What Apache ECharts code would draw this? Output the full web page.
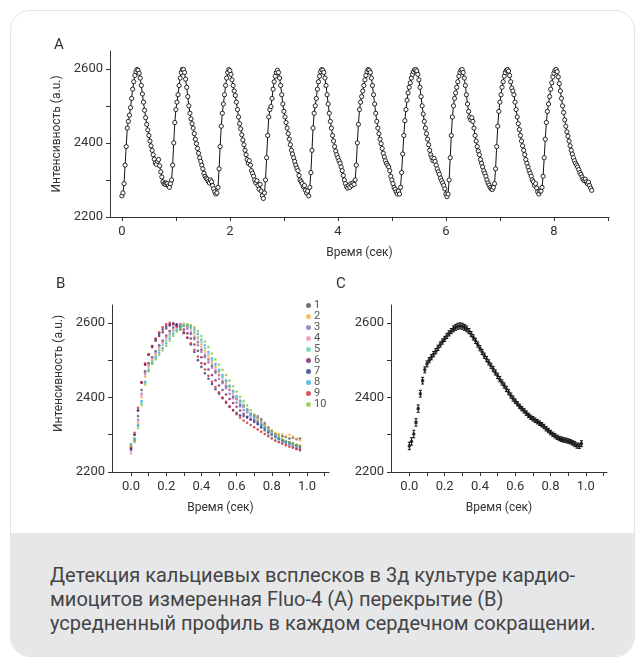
<!DOCTYPE html>
<html>
<head>
<meta charset="utf-8">
<script src="https://cdn.jsdelivr.net/npm/echarts@6/dist/echarts.min.js"></script>
<style>
  html, body { margin: 0; padding: 0; background: #fff; }
  body { width: 637px; height: 659px; position: relative; overflow: hidden; font-family: Roboto, sans-serif; }
  #card { position: absolute; left: 10px; top: 10px; width: 625px; height: 647px; box-sizing: border-box;
          border: 1.5px solid #e4e4e4; border-radius: 20px; overflow: hidden; background: #fff; }
  #caption { position: absolute; left: 0; right: 0; bottom: 0; height: 123px; background: #e6e7e9; }
  #caption p { margin: 0; padding: 30px 0 0 39px; font-size: 20px; line-height: 24px; color: #444; }
  #chart { position: absolute; left: 0; top: 0; width: 637px; height: 659px; }
</style>
</head>
<body>
<div id="card">
  <div id="caption"><p>Детекция кальциевых всплесков в 3д культуре кардио-<br>миоцитов измеренная Fluo-4 (A) перекрытие (B)<br>усредненный профиль в каждом сердечном сокращении.</p></div>
</div>
<div id="chart"></div>
<script>
  // A: raw trace, one sample every 0.02 s, one line per beat
  var stepA = 0.02;
  var traceA = [
    2257,2265,2290,2340,2390,2440,2458,2475,2495,2520,2545,2565,2582,2592,2598,2596,2588,2575,2555,2532,2510,2488,2468,2450,2435,2420,2405,2392,2380,2368,2356,2346,2342,2350,2355,2338,2322,2308,2295,2290,2288,2292,2290,2284,2280,2290,
    2300,2340,2400,2455,2490,2510,2530,2555,2575,2590,2598,2598,2590,2572,2550,2525,2500,2480,2465,2452,2440,2425,2410,2398,2385,2372,2360,2350,2340,2330,2318,2310,2305,2302,2296,2292,2300,2295,2285,2276,2268,2262,2265,
    2280,2330,2390,2445,2480,2505,2530,2555,2575,2590,2598,2595,2585,2570,2555,2540,2528,2510,2490,2470,2452,2438,2422,2408,2395,2380,2368,2355,2345,2352,2340,2325,2318,2310,2300,2292,2298,2285,2275,2288,2270,2258,2250,
    2265,2300,2360,2420,2470,2490,2498,2520,2545,2565,2580,2590,2596,2590,2575,2555,2530,2505,2485,2470,2455,2440,2425,2410,2395,2380,2370,2360,2350,2340,2332,2325,2312,2300,2295,2290,2282,2285,2272,2265,2270,2257,
    2280,2320,2380,2440,2480,2500,2520,2545,2565,2580,2592,2598,2596,2590,2575,2555,2530,2505,2480,2458,2440,2420,2405,2390,2378,2368,2360,2352,2345,2335,2325,2312,2300,2290,2282,2278,2285,2280,2290,
    2285,2292,2288,2300,2340,2400,2450,2490,2510,2525,2540,2555,2570,2582,2592,2598,2596,2590,2575,2555,2530,2505,2480,2458,2440,2425,2410,2398,2385,2372,2362,2352,2345,2340,2335,2325,2310,2300,2290,2280,2275,2268,2262,2270,
    2262,2280,2320,2370,2420,2460,2490,2515,2535,2550,2562,2575,2585,2592,2597,2598,2594,2585,2570,2550,2525,2500,2478,2458,2440,2425,2410,2395,2380,2368,2360,2352,2358,2350,2340,2330,2322,2315,2305,2298,2292,2285,2276,2262,2255,
    2262,2300,2360,2420,2470,2500,2520,2535,2550,2565,2580,2590,2596,2598,2590,2575,2555,2530,2505,2485,2470,2462,2468,2458,2440,2420,2405,2390,2378,2368,2355,2345,2335,2325,2318,2310,2300,2292,2286,2280,2276,2274,2280,
    2290,2330,2390,2445,2485,2510,2530,2550,2565,2580,2590,2596,2598,2594,2582,2565,2548,2540,2530,2510,2490,2470,2452,2436,2420,2405,2392,2380,2368,2355,2345,2335,2325,2318,2310,2300,2295,2285,2290,2278,2268,2262,2270,
    2270,2280,2310,2360,2410,2455,2485,2505,2525,2545,2562,2578,2588,2595,2598,2592,2578,2560,2540,2520,2500,2482,2462,2445,2430,2418,2405,2392,2380,2370,2360,2352,2345,2340,2335,2328,2320,2315,2308,2302,2298,2302,2295,2290,2294,2285,2278,2272
  ];

  // B: ten beats overlaid, one sample every 0.02 s
  var stepB = 0.02;
  var namesB = ['1', '2', '3', '4', '5', '6', '7', '8', '9', '10'];
  var colorsB = ['#4d4d4f', '#f6b13d', '#8e6cc0', '#ee91b8', '#6ccab9', '#7c1f6b', '#2b3990', '#3baae4', '#d4252f', '#8dc641'];
  var beatB1 = [2262,2290,2350,2420,2470,2492,2508,2524,2540,2552,2565,2578,2586,2594,2597,2594,2588,2572,2560,2548,2528,2512,2502,2485,2470,2460,2442,2430,2420,2402,2395,2380,2375,2365,2352,2348,2346,2340,2328,2318,2310,2302,2300,2296,2294,2290,2292,2288,2290];
  var beatB2 = [2270,2288,2330,2400,2455,2482,2500,2515,2532,2548,2560,2572,2582,2590,2596,2598,2592,2585,2572,2558,2542,2525,2510,2495,2482,2468,2455,2440,2428,2415,2400,2390,2378,2368,2358,2350,2340,2334,2325,2318,2312,2305,2300,2302,2296,2300,2295,2290,2285];
  var beatB3 = [2258,2285,2340,2410,2465,2490,2508,2522,2538,2552,2566,2578,2588,2594,2596,2592,2584,2570,2556,2540,2522,2508,2494,2480,2466,2450,2438,2425,2410,2398,2386,2376,2366,2360,2354,2352,2350,2342,2332,2320,2310,2300,2292,2286,2280,2275,2268,2262,2258];
  var beatB4 = [2250,2280,2335,2405,2460,2485,2502,2518,2530,2545,2558,2570,2582,2590,2595,2594,2588,2578,2565,2550,2535,2518,2502,2490,2475,2460,2448,2435,2420,2408,2396,2385,2374,2364,2354,2345,2338,2330,2320,2312,2304,2296,2290,2284,2280,2276,2272,2268,2265];
  var beatB5 = [2272,2290,2325,2385,2440,2475,2496,2512,2526,2540,2552,2565,2576,2585,2592,2595,2592,2586,2576,2562,2548,2532,2516,2500,2485,2470,2455,2442,2428,2414,2400,2388,2375,2362,2350,2340,2330,2320,2310,2300,2292,2286,2282,2280,2278,2275,2272,2270,2268];
  var beatB6 = [2265,2300,2365,2440,2490,2515,2535,2552,2565,2575,2585,2593,2598,2596,2590,2582,2572,2558,2542,2525,2508,2490,2475,2460,2446,2432,2420,2408,2396,2385,2375,2365,2356,2348,2342,2338,2333,2326,2318,2310,2302,2296,2290,2285,2282,2278,2276,2272,2270];
  var beatB7 = [2262,2300,2365,2440,2488,2515,2538,2556,2570,2582,2590,2596,2598,2594,2586,2575,2560,2542,2522,2500,2482,2465,2450,2436,2422,2410,2398,2386,2375,2366,2358,2352,2350,2346,2340,2334,2328,2320,2314,2306,2300,2294,2290,2286,2282,2280,2276,2272,2268];
  var beatB8 = [2275,2285,2325,2390,2442,2472,2492,2507,2520,2532,2545,2558,2570,2580,2588,2593,2594,2590,2582,2570,2555,2540,2522,2505,2490,2474,2460,2446,2432,2418,2404,2392,2380,2368,2356,2346,2336,2328,2318,2310,2302,2294,2288,2282,2278,2274,2270,2266,2262];
  var beatB9 = [2268,2305,2372,2440,2490,2515,2538,2558,2575,2588,2596,2600,2596,2590,2582,2572,2560,2545,2528,2510,2492,2475,2458,2442,2428,2414,2400,2388,2376,2365,2355,2346,2338,2332,2326,2320,2314,2308,2302,2296,2290,2284,2280,2276,2272,2268,2265,2262,2260];
  var beatB10 = [2270,2282,2318,2380,2435,2470,2490,2502,2514,2526,2538,2552,2565,2576,2585,2592,2596,2594,2588,2578,2565,2550,2535,2518,2502,2488,2474,2460,2445,2430,2416,2402,2390,2378,2366,2355,2345,2335,2325,2316,2308,2300,2294,2288,2284,2280,2276,2272,2270];
  var beatsB = [beatB1, beatB2, beatB3, beatB4, beatB5, beatB6, beatB7, beatB8, beatB9, beatB10];

  // C: averaged profile with error, one point every 0.0125 s
  var stepC = 0.0125;
  var meanC = [2270,2282,2302,2333,2370,2410,2445,2474,2490,2500,
    2508,2516,2524,2533,2542,2550,2557,2565,2572,2578,
    2584,2588,2591,2592,2591,2588,2584,2578,2570,2561,
    2552,2542,2532,2522,2512,2503,2494,2485,2476,2467,
    2458,2449,2440,2432,2423,2414,2405,2397,2390,2383,
    2376,2370,2364,2358,2352,2347,2343,2339,2335,2331,
    2327,2322,2316,2311,2306,2301,2297,2293,2290,2288,
    2286,2285,2283,2281,2278,2275,2271,2270,2276];
  var errC = [10,10,10,10,10,9,9,8,8,7, 7,7,7,7,7,7,7,7,7,7, 8,8,8,8,8,8,8,7,7,7,
    7,7,7,7,7,7,7,7,7,7, 7,7,7,7,7,7,7,7,6,6, 6,6,6,6,6,6,6,6,6,6,
    6,6,6,6,6,6,6,6,6,6, 6,6,6,6,6,7,7,7,8];

  // axis ticks and labels
  var yTicks = [2200, 2300, 2400, 2500, 2600];
  var yLabels = [2200, 2400, 2600];
  var xTicksA = [0, 1, 2, 3, 4, 5, 6, 7, 8, 9];
  var xLabelsA = [0, 2, 4, 6, 8];
  var xTicksBC = [0, 0.1, 0.2, 0.3, 0.4, 0.5, 0.6, 0.7, 0.8, 0.9, 1.0, 1.1];
  var xLabelsBC = [0, 0.2, 0.4, 0.6, 0.8, 1.0];

  var ink = '#333';

  function xAxis(grid, min, max, ticks, labels, fmt) {
    return {
      type: 'value', gridIndex: grid, min: min, max: max,
      name: 'Время (сек)', nameLocation: 'middle', nameGap: 30,
      nameTextStyle: { fontSize: 12, color: ink },
      axisLine: { show: true, onZero: false, lineStyle: { color: ink, width: 1 } },
      axisTick: { show: true, length: 4, customValues: ticks, lineStyle: { color: ink } },
      axisLabel: { customValues: labels, margin: 8, fontSize: 13, color: ink, formatter: fmt },
      splitLine: { show: false }
    };
  }

  function yAxis(grid, withName, shift) {
    return {
      type: 'value', gridIndex: grid, min: 2200, max: 2648,
      name: withName ? 'Интенсивность (a.u.)' : '', nameLocation: 'middle', nameGap: 47,
      nameTextStyle: { fontSize: 12, color: ink, padding: [0, 0, 0, shift || 0] },
      axisLine: { show: true, onZero: false, lineStyle: { color: ink, width: 1 } },
      axisTick: { show: true, length: 4, customValues: yTicks, lineStyle: { color: ink } },
      axisLabel: { customValues: yLabels, margin: 7, fontSize: 13, color: ink,
        formatter: function (v) { return String(v); } },
      splitLine: { show: false }
    };
  }

  var fmtA = function (v) { return String(v); };
  var fmtBC = function (v) { return v.toFixed(1); };

  var series = [{
    type: 'line', xAxisIndex: 0, yAxisIndex: 0,
    data: traceA.map(function (v, i) { return [+(i * stepA).toFixed(2), v]; }),
    symbol: 'circle', symbolSize: 4.2, showSymbol: true, showAllSymbol: true,
    itemStyle: { color: '#fff', borderColor: '#111', borderWidth: 0.9 },
    lineStyle: { color: '#111', width: 1 },
    silent: true
  }];

  beatsB.forEach(function (beat, k) {
    series.push({
      type: 'scatter', name: namesB[k], xAxisIndex: 1, yAxisIndex: 1,
      data: beat.map(function (v, i) { return [+(i * stepB).toFixed(2), v]; }),
      symbolSize: 2.6, itemStyle: { color: colorsB[k] }, silent: true
    });
  });

  var pointsC = meanC.map(function (v, i) { return [+(i * stepC).toFixed(4), v, errC[i]]; });

  series.push({
    type: 'custom', xAxisIndex: 2, yAxisIndex: 2, data: pointsC, silent: true,
    renderItem: function (params, api) {
      var x = api.value(0), y = api.value(1), e = api.value(2);
      var top = api.coord([x, y + e]);
      var bot = api.coord([x, y - e]);
      var st = { stroke: '#111', lineWidth: 1 };
      return {
        type: 'group', children: [
          { type: 'line', shape: { x1: top[0], y1: top[1], x2: bot[0], y2: bot[1] }, style: st },
          { type: 'line', shape: { x1: top[0] - 1.5, y1: top[1], x2: top[0] + 1.5, y2: top[1] }, style: st },
          { type: 'line', shape: { x1: bot[0] - 1.5, y1: bot[1], x2: bot[0] + 1.5, y2: bot[1] }, style: st }
        ]
      };
    }
  });
  series.push({
    type: 'scatter', xAxisIndex: 2, yAxisIndex: 2, data: pointsC,
    symbolSize: 3.6, itemStyle: { color: '#111' }, silent: true
  });

  var chart = echarts.init(document.getElementById('chart'), null, { renderer: 'canvas' });
  chart.setOption({
    animation: false,
    textStyle: { fontFamily: 'Roboto, sans-serif' },
    title: [
      { text: 'A', left: 54, top: 38, padding: 0, textStyle: { fontSize: 15, fontWeight: 'normal', color: ink } },
      { text: 'B', left: 56, top: 277, padding: 0, textStyle: { fontSize: 15, fontWeight: 'normal', color: ink } },
      { text: 'C', left: 336, top: 277, padding: 0, textStyle: { fontSize: 15, fontWeight: 'normal', color: ink } }
    ],
    legend: {
      data: namesB, orient: 'vertical', left: 306, top: 300, padding: 0,
      icon: 'circle', itemWidth: 5, itemHeight: 5, itemGap: 0,
      selectedMode: false,
      textStyle: { fontSize: 11, lineHeight: 11, color: '#555', padding: [0, 0, 0, -2] }
    },
    grid: [
      { left: 110, top: 51, width: 499, height: 166 },
      { left: 112, top: 305, width: 217, height: 167 },
      { left: 391, top: 305, width: 216, height: 167 }
    ],
    xAxis: [
      xAxis(0, -0.22, 9.02, xTicksA, xLabelsA, fmtA),
      xAxis(1, -0.108, 1.125, xTicksBC, xLabelsBC, fmtBC),
      xAxis(2, -0.104, 1.12, xTicksBC, xLabelsBC, fmtBC)
    ],
    yAxis: [
      yAxis(0, true, 0),
      yAxis(1, true, 30),
      yAxis(2, false, 0)
    ],
    series: series
  });
</script>
</body>
</html>
